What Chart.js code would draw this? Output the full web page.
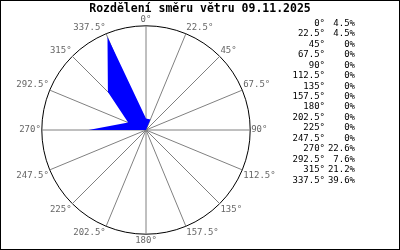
<!DOCTYPE html>
<html lang="cs">
<head>
    <meta charset="UTF-8">
    <title>Rozdělení směru větru</title>
    <style>
        body {
            margin: 0;
            padding: 0;
            background-color: #fff;
        }
        #wrap {
            width: 400px;
            height: 250px;
            box-sizing: border-box;
            border: 1px solid #000;
        }
        canvas {
            display: block;
        }
    </style>
</head>
<body>
    <div id="wrap">
        <canvas id="rose" width="398" height="248"></canvas>
    </div>
    <script src="https://cdn.jsdelivr.net/npm/chart.js"></script>
    <script>
        const chartTitle = 'Rozdělení směru větru 09.11.2025';
        const directions = ['0°', '22.5°', '45°', '67.5°', '90°', '112.5°', '135°', '157.5°',
                            '180°', '202.5°', '225°', '247.5°', '270°', '292.5°', '315°', '337.5°'];
        const shares = [4.5, 4.5, 0, 0, 0, 0, 0, 0, 0, 0, 0, 0, 22.6, 7.6, 21.2, 39.6];
        const scaleMax = 41;

        const mono = 'DejaVu Sans Mono';

        // title and the value table on the right
        const textPlugin = {
            id: 'roseText',
            afterDraw(chart) {
                const ctx = chart.ctx;
                ctx.save();
                ctx.fillStyle = '#000';
                ctx.textBaseline = 'middle';
                ctx.font = 'bold 11.5px "' + mono + '"';
                ctx.textAlign = 'center';
                ctx.fillText(chartTitle, 199, 8);

                ctx.font = '9px "' + mono + '"';
                ctx.textAlign = 'right';
                for (let i = 0; i < directions.length; i++) {
                    const y = 22.5 + i * 10.45;
                    ctx.fillText(directions[i], 324, y);
                    ctx.fillText(shares[i] + '%', 354, y);
                }
                ctx.restore();
            }
        };

        const ctx = document.getElementById('rose').getContext('2d');
        new Chart(ctx, {
            type: 'radar',
            data: {
                labels: directions,
                datasets: [{
                    data: shares,
                    backgroundColor: '#0000ff',
                    borderColor: '#0000ff',
                    borderWidth: 0,
                    pointRadius: 0,
                    fill: true
                }]
            },
            options: {
                responsive: false,
                animation: false,
                layout: {
                    padding: { left: 5, right: 113, top: 14, bottom: 2 }
                },
                plugins: {
                    legend: { display: false },
                    title: { display: false },
                    tooltip: { enabled: false }
                },
                scales: {
                    r: {
                        min: 0,
                        max: scaleMax,
                        ticks: { display: false, stepSize: scaleMax },
                        grid: { circular: true, color: '#000', lineWidth: 1 },
                        angleLines: { color: '#808080', lineWidth: 1 },
                        pointLabels: {
                            font: { family: mono, size: 9 },
                            color: '#666',
                            padding: 1
                        }
                    }
                }
            },
            plugins: [textPlugin]
        });
    </script>
</body>
</html>
